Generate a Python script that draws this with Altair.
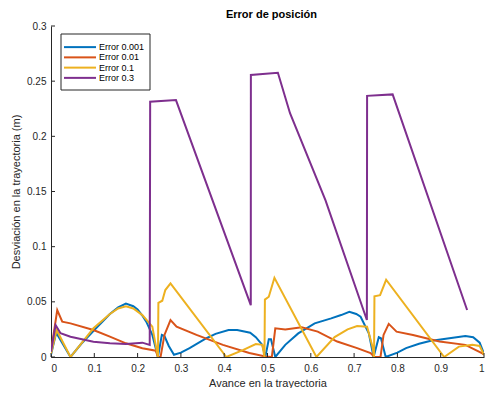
import altair as alt
import pandas as pd

title_text = "Error de posición"
series = ["Error 0.001", "Error 0.01", "Error 0.1", "Error 0.3"]
colors = ["#0072BD", "#D95319", "#EDB120", "#7E2F8E"]

x_e001 = [0, 0.012, 0.045, 0.07, 0.1, 0.136, 0.155, 0.173, 0.19, 0.2, 0.21, 0.22, 0.234, 0.247,
          0.256, 0.262, 0.272, 0.284, 0.3, 0.32, 0.359, 0.38, 0.41, 0.43, 0.46, 0.473, 0.488, 0.495,
          0.503, 0.508, 0.518, 0.541, 0.571, 0.609, 0.647, 0.67, 0.689, 0.705, 0.715, 0.734, 0.745,
          0.757, 0.762, 0.773, 0.8, 0.82, 0.85, 0.875, 0.92, 0.957, 0.975, 0.99, 1.0]
y_e001 = [0.002, 0.022, 0.0, 0.012, 0.0245, 0.039, 0.045, 0.0485, 0.046, 0.043, 0.038, 0.032, 0.02, 0.0,
          0.02, 0.019, 0.01, 0.002, 0.004, 0.008, 0.017, 0.021, 0.0245, 0.0245, 0.022, 0.018, 0.011, 0.0,
          0.016, 0.016, 0.0, 0.011, 0.0214, 0.0305, 0.035, 0.038, 0.041, 0.039, 0.0365, 0.0215, 0.0,
          0.018, 0.017, 0.0, 0.004, 0.008, 0.012, 0.0145, 0.017, 0.019, 0.018, 0.013, 0.003]

x_e01 = [0, 0.0144, 0.026, 0.045, 0.098, 0.136, 0.173, 0.211, 0.242, 0.247,
         0.253, 0.262, 0.276, 0.29, 0.336, 0.397, 0.458, 0.495, 0.51, 0.518, 0.541,
         0.579, 0.616, 0.661, 0.707, 0.738, 0.747, 0.761, 0.768, 0.78, 0.798, 0.836,
         0.897, 0.957, 0.995, 1.0]
y_e01 = [0.005, 0.0426, 0.032, 0.0305, 0.0245, 0.0184, 0.0124, 0.0079, 0.0057, 0.0,
         0.0, 0.02, 0.0335, 0.0275, 0.02, 0.011, 0.0036, 0.0005, 0.0, 0.026, 0.025,
         0.027, 0.023, 0.014, 0.008, 0.0036, 0.0, 0.0, 0.02, 0.03, 0.023, 0.02,
         0.014, 0.011, 0.0036, 0.002]

x_e1 = [0, 0.013, 0.045, 0.098, 0.136, 0.155, 0.173, 0.19, 0.211, 0.234, 0.245, 0.247, 0.248,
        0.257, 0.264, 0.276, 0.405, 0.443, 0.473, 0.488, 0.493, 0.494, 0.503, 0.516,
        0.613, 0.655, 0.685, 0.707, 0.73, 0.742, 0.746, 0.747, 0.76, 0.774, 0.908, 0.942,
        0.973, 0.99, 1.0]
y_e1 = [0.003, 0.0245, 0.0, 0.026, 0.039, 0.044, 0.046, 0.044, 0.038, 0.0275, 0.004, 0.0, 0.049,
        0.051, 0.0607, 0.0668, 0.0, 0.0063, 0.0118, 0.011, 0.0, 0.052, 0.0546, 0.0718,
        0.0, 0.018, 0.025, 0.028, 0.0275, 0.01, 0.0, 0.055, 0.056, 0.07, 0.0, 0.0094,
        0.011, 0.01, 0.002]

x_e3 = [0, 0.0106, 0.022, 0.045, 0.098, 0.136, 0.173, 0.211, 0.228, 0.229, 0.2886,
        0.4614, 0.4616, 0.524, 0.552, 0.634, 0.7295, 0.73, 0.789, 0.958, 0.961]
y_e3 = [0.0048, 0.029, 0.0215, 0.0184, 0.0139, 0.0124, 0.0118, 0.013, 0.011, 0.2314, 0.2329,
        0.047, 0.2556, 0.2576, 0.221, 0.142, 0.0335, 0.2367, 0.238, 0.046, 0.0426]

x_ticks = [0, 0.1, 0.2, 0.3, 0.4, 0.5, 0.6, 0.7, 0.8, 0.9, 1.0]
y_ticks = [0, 0.05, 0.1, 0.15, 0.2, 0.25, 0.3]

rows = []
for name, xs, ys in zip(series, [x_e001, x_e01, x_e1, x_e3], [y_e001, y_e01, y_e1, y_e3]):
    for i, (a, b) in enumerate(zip(xs, ys)):
        rows.append({"serie": name, "x": a, "y": b, "i": i})
df = pd.DataFrame(rows)

W, H = 433, 331
font = "Liberation Sans"
axis_col = "#262626"

xscale = alt.Scale(domain=[0, 1], nice=False)
yscale = alt.Scale(domain=[0, 0.3], nice=False)
cscale = alt.Scale(domain=series, range=colors)

lines = alt.Chart(df).mark_line(strokeWidth=2, clip=True).encode(
    x=alt.X("x:Q", scale=xscale,
            axis=alt.Axis(values=x_ticks, format="~g", title="Avance en la trayectoria",
                          ticks=False, labelPadding=6, grid=False, titlePadding=4)),
    y=alt.Y("y:Q", scale=yscale,
            axis=alt.Axis(values=y_ticks, format="~g", title="Desviación en la trayectoria (m)",
                          ticks=False, labelPadding=5, grid=False, titlePadding=5)),
    color=alt.Color("serie:N", scale=cscale, legend=None),
    order=alt.Order("i:Q"),
)

xt = pd.DataFrame({"t": x_ticks})
yt = pd.DataFrame({"t": y_ticks})
xtick_marks = alt.Chart(xt).mark_rule(color=axis_col, strokeWidth=1).encode(
    x=alt.X("t:Q", scale=xscale), y=alt.value(H), y2=alt.value(H - 4))
ytick_marks = alt.Chart(yt).mark_rule(color=axis_col, strokeWidth=1).encode(
    y=alt.Y("t:Q", scale=yscale, axis=None), x=alt.value(0), x2=alt.value(4))

leg = pd.DataFrame({"serie": series})
leg_y = alt.Y("serie:N", scale=alt.Scale(domain=series, range=[16, 57], padding=0), axis=None)
leg_box = alt.Chart(pd.DataFrame({"serie": [series[0]]})).mark_rect(
    fill="white", stroke=axis_col, strokeWidth=1).encode(
    x=alt.value(10), x2=alt.value(99), y=alt.value(8), y2=alt.value(64))
leg_lines = alt.Chart(leg).mark_rule(strokeWidth=2).encode(
    x=alt.value(13), x2=alt.value(45), y=leg_y,
    color=alt.Color("serie:N", scale=cscale, legend=None))
leg_text = alt.Chart(leg).mark_text(align="left", baseline="middle", fontSize=9,
                                    font=font, color="#000000").encode(
    x=alt.value(48), y=leg_y, text="serie:N")

title_mark = alt.Chart(pd.DataFrame({"t": [title_text]})).mark_text(
    align="center", baseline="middle", fontSize=11, fontWeight="bold", font=font,
    color="#000000").encode(x=alt.value(W / 2 + 4), y=alt.value(-11), text="t:N")

legend_layer = alt.layer(leg_box, leg_lines, leg_text)

chart = alt.layer(lines, xtick_marks, ytick_marks, legend_layer, title_mark).resolve_scale(
    y="independent"
).properties(
    width=W, height=H,
    autosize=alt.AutoSizeParams(type="none"),
    padding={"left": 43, "top": 18, "right": 2, "bottom": 31},
).configure_view(stroke=None).configure_axis(
    domainColor=axis_col, labelColor=axis_col, titleColor=axis_col,
    labelFont=font, titleFont=font, labelFontSize=10, titleFontSize=11,
    titleFontWeight="normal", domainWidth=1,
)

chart.save("out.html", embed_options={"renderer": "svg", "actions": False})
